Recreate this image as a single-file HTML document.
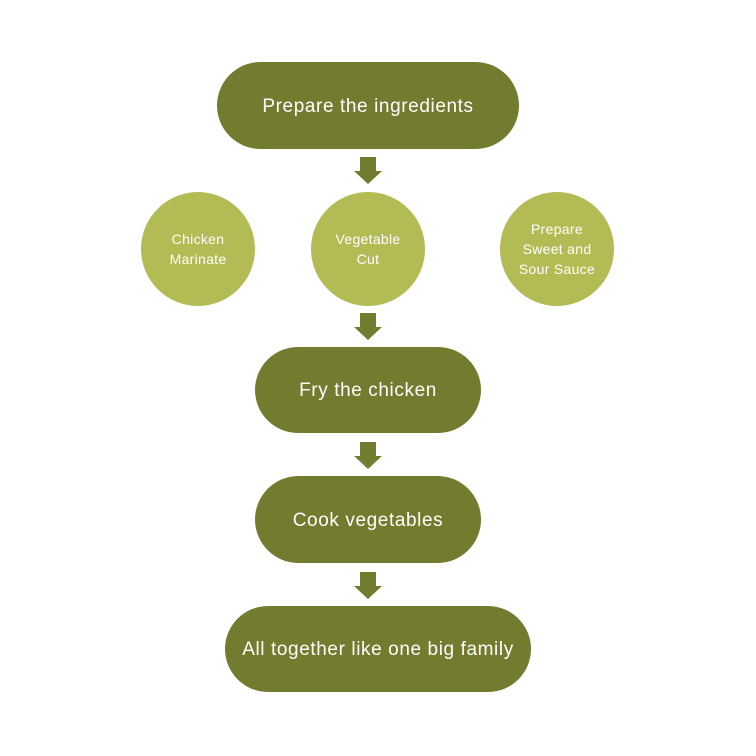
<!DOCTYPE html>
<html><head><style>
body{margin:0;width:756px;height:756px;background:#fff;position:relative;font-family:"Liberation Sans",sans-serif;overflow:hidden}
.p{position:absolute;background:#737b2f;color:#fff;border-radius:45px;display:flex;align-items:center;justify-content:center;font-size:19px;letter-spacing:0.6px;padding-top:2px;box-sizing:border-box}
.c{position:absolute;width:114px;height:114px;border-radius:50%;background:#b3bb54;color:#fff;display:flex;align-items:center;justify-content:center;text-align:center;font-size:14px;line-height:20px;letter-spacing:0.3px}
svg{position:absolute;left:0;top:0}
</style></head><body>
<div class="p" style="left:217px;top:62px;width:302px;height:87px">Prepare the ingredients</div>
<div class="c" style="left:141px;top:192px">Chicken<br>Marinate</div>
<div class="c" style="left:311px;top:192px">Vegetable<br>Cut</div>
<div class="c" style="left:500px;top:192px">Prepare<br>Sweet and<br>Sour Sauce</div>
<div class="p" style="left:255px;top:347px;width:226px;height:86px">Fry the chicken</div>
<div class="p" style="left:255px;top:476px;width:226px;height:87px">Cook vegetables</div>
<div class="p" style="left:225px;top:606px;width:306px;height:86px">All together like one big family</div>
<svg width="756" height="756">
<g fill="#737b2f">
<polygon points="360,157 376,157 376,171 382,171 368,184 354,171 360,171"/>
<polygon points="360,313 376,313 376,327 382,327 368,340 354,327 360,327"/>
<polygon points="360,442 376,442 376,456 382,456 368,469 354,456 360,456"/>
<polygon points="360,572 376,572 376,586 382,586 368,599 354,586 360,586"/>
</g></svg>
</body></html>
